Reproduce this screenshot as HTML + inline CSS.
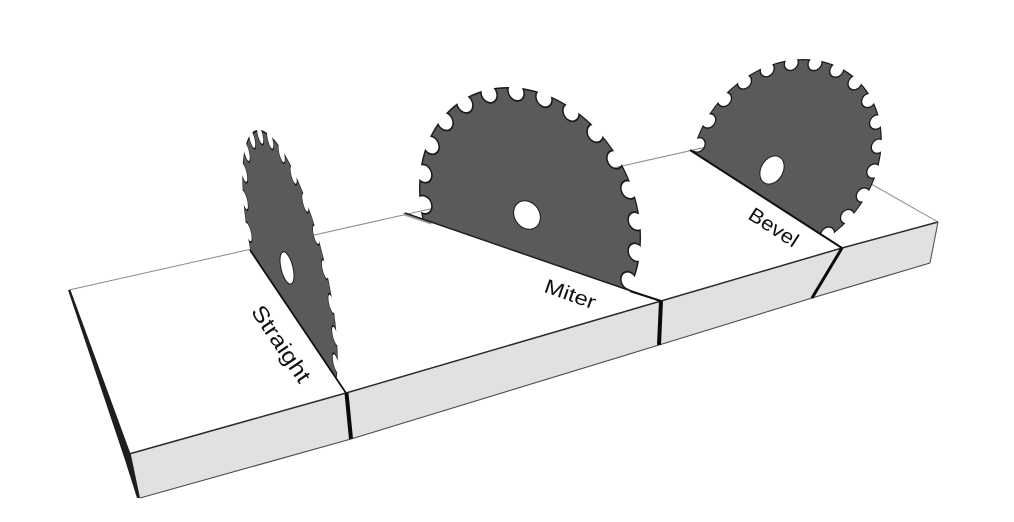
<!DOCTYPE html>
<html>
<head>
<meta charset="utf-8">
<style>
  html,body{margin:0;padding:0;background:#fff;}
  body{width:1014px;height:522px;overflow:hidden;}
  svg{display:block;}
  .lbl{font-family:"Liberation Sans","DejaVu Sans",sans-serif;fill:#111;}
</style>
</head>
<body>
<svg width="1014" height="522" viewBox="0 0 1014 522" xmlns="http://www.w3.org/2000/svg">
  <defs>
    <g id="n1">
      <circle cx="0" cy="-96.5" r="6.6" transform="rotate(0)"/>
      <circle cx="0" cy="-96.5" r="6.6" transform="rotate(15)"/>
      <circle cx="0" cy="-96.5" r="6.6" transform="rotate(30)"/>
      <circle cx="0" cy="-96.5" r="6.6" transform="rotate(45)"/>
      <circle cx="0" cy="-96.5" r="6.6" transform="rotate(60)"/>
      <circle cx="0" cy="-96.5" r="6.6" transform="rotate(75)"/>
      <circle cx="0" cy="-96.5" r="6.6" transform="rotate(90)"/>
      <circle cx="0" cy="-96.5" r="6.6" transform="rotate(105)"/>
      <circle cx="0" cy="-96.5" r="6.6" transform="rotate(120)"/>
      <circle cx="0" cy="-96.5" r="6.6" transform="rotate(135)"/>
      <circle cx="0" cy="-96.5" r="6.6" transform="rotate(150)"/>
      <circle cx="0" cy="-96.5" r="6.6" transform="rotate(165)"/>
      <circle cx="0" cy="-96.5" r="6.6" transform="rotate(180)"/>
      <circle cx="0" cy="-96.5" r="6.6" transform="rotate(195)"/>
      <circle cx="0" cy="-96.5" r="6.6" transform="rotate(210)"/>
      <circle cx="0" cy="-96.5" r="6.6" transform="rotate(225)"/>
      <circle cx="0" cy="-96.5" r="6.6" transform="rotate(240)"/>
      <circle cx="0" cy="-96.5" r="6.6" transform="rotate(255)"/>
      <circle cx="0" cy="-96.5" r="6.6" transform="rotate(270)"/>
      <circle cx="0" cy="-96.5" r="6.6" transform="rotate(285)"/>
      <circle cx="0" cy="-96.5" r="6.6" transform="rotate(300)"/>
      <circle cx="0" cy="-96.5" r="6.6" transform="rotate(315)"/>
      <circle cx="0" cy="-96.5" r="6.6" transform="rotate(330)"/>
      <circle cx="0" cy="-96.5" r="6.6" transform="rotate(345)"/>
    </g>
    <g id="n2">
      <circle cx="0" cy="-96.5" r="8" transform="rotate(0)"/>
      <circle cx="0" cy="-96.5" r="8" transform="rotate(15)"/>
      <circle cx="0" cy="-96.5" r="8" transform="rotate(30)"/>
      <circle cx="0" cy="-96.5" r="8" transform="rotate(45)"/>
      <circle cx="0" cy="-96.5" r="8" transform="rotate(60)"/>
      <circle cx="0" cy="-96.5" r="8" transform="rotate(75)"/>
      <circle cx="0" cy="-96.5" r="8" transform="rotate(90)"/>
      <circle cx="0" cy="-96.5" r="8" transform="rotate(105)"/>
      <circle cx="0" cy="-96.5" r="8" transform="rotate(120)"/>
      <circle cx="0" cy="-96.5" r="8" transform="rotate(135)"/>
      <circle cx="0" cy="-96.5" r="8" transform="rotate(150)"/>
      <circle cx="0" cy="-96.5" r="8" transform="rotate(165)"/>
      <circle cx="0" cy="-96.5" r="8" transform="rotate(180)"/>
      <circle cx="0" cy="-96.5" r="8" transform="rotate(195)"/>
      <circle cx="0" cy="-96.5" r="8" transform="rotate(210)"/>
      <circle cx="0" cy="-96.5" r="8" transform="rotate(225)"/>
      <circle cx="0" cy="-96.5" r="8" transform="rotate(240)"/>
      <circle cx="0" cy="-96.5" r="8" transform="rotate(255)"/>
      <circle cx="0" cy="-96.5" r="8" transform="rotate(270)"/>
      <circle cx="0" cy="-96.5" r="8" transform="rotate(285)"/>
      <circle cx="0" cy="-96.5" r="8" transform="rotate(300)"/>
      <circle cx="0" cy="-96.5" r="8" transform="rotate(315)"/>
      <circle cx="0" cy="-96.5" r="8" transform="rotate(330)"/>
      <circle cx="0" cy="-96.5" r="8" transform="rotate(345)"/>
    </g>
    <mask id="m1" maskUnits="userSpaceOnUse" maskContentUnits="userSpaceOnUse" x="-130" y="-130" width="260" height="260">
      <rect x="-130" y="-130" width="260" height="260" fill="#fff"/>
      <use href="#n1" fill="#000"/>
    </mask>
    <mask id="m2" maskUnits="userSpaceOnUse" maskContentUnits="userSpaceOnUse" x="-130" y="-130" width="260" height="260">
      <rect x="-130" y="-130" width="260" height="260" fill="#fff"/>
      <use href="#n2" fill="#000"/>
    </mask>
    <clipPath id="cs" clipPathUnits="userSpaceOnUse"><polygon points="-38,-179 442,536 1014,536 1014,-179"/></clipPath>
    <clipPath id="cm" clipPathUnits="userSpaceOnUse"><polygon points="-105,37 915,389 1014,389 1014,-100 -105,-100"/></clipPath>
    <clipPath id="cb" clipPathUnits="userSpaceOnUse"><polygon points="386,-46 994,346 1014,346 1014,-100 386,-100"/></clipPath>
  </defs>

  <rect x="0" y="0" width="1014" height="522" fill="#fff"/>

  <!-- board top face -->
  <polygon points="69,290 778,131 938,222 842,248 661,301 346,393 129,454" fill="#fff"/>
  <polyline points="69,290 778,131 938,222" fill="none" stroke="#8a8a8a" stroke-width="1"/>

  <!-- front face -->
  <polygon points="129,454 346,393 661,301 842,248 938,222 930,263 812,298 659,345 351,439 140,498" fill="#e1e1e1"/>
  <polyline points="129,454 346,393 661,301 842,248 938,222" fill="none" stroke="#2a2a2a" stroke-width="1.5"/>
  <polyline points="140,498 351,439 659,345 812,298 930,263" fill="none" stroke="#4a4a4a" stroke-width="1.1"/>
  <line x1="938" y1="222" x2="930" y2="263" stroke="#555" stroke-width="1.1"/>

  <!-- left end dark wedge -->
  <polygon points="68,290 70.5,290 131,455 140,498 137,498 125,460" fill="#1e1e1e"/>

  <!-- miter kerf sliver -->
  <polygon points="403,212.5 432,221.5 431,224.5 404,215.5" fill="#9a9a9a"/>

  <!-- STRAIGHT blade -->
  <g clip-path="url(#cs)">
    <g transform="matrix(0.340,-0.082,0.334,1.380,290,268)">
      <g transform="rotate(4)">
        <circle cx="0" cy="0" r="100" fill="#1a1a1a" mask="url(#m1)"/>
        <circle cx="0" cy="0" r="98.6" fill="#5a5a5a" mask="url(#m2)"/>
      </g>
    </g>
    <ellipse cx="287" cy="268" rx="6" ry="16.5" transform="rotate(-13.6 287 268)" fill="#fff" stroke="#1a1a1a" stroke-width="1"/>
  </g>

  <!-- MITER blade -->
  <g clip-path="url(#cm)">
    <g transform="matrix(1.11,0.25,0,1.235,530,213)">
      <g transform="rotate(7.5)">
        <circle cx="0" cy="0" r="100" fill="#1a1a1a" mask="url(#m1)"/>
        <circle cx="0" cy="0" r="98.8" fill="#5a5a5a" mask="url(#m2)"/>
      </g>
    </g>
    <ellipse cx="527" cy="215" rx="12.5" ry="15" transform="rotate(-35 527 215)" fill="#fff" stroke="#1a1a1a" stroke-width="1"/>
  </g>

  <!-- BEVEL blade -->
  <g clip-path="url(#cb)">
    <g transform="matrix(0.681,-0.812,0.674,0.566,786,158)">
      <g transform="rotate(3)">
        <circle cx="0" cy="0" r="100" fill="#1a1a1a" mask="url(#m1)"/>
        <circle cx="0" cy="0" r="98.8" fill="#5a5a5a" mask="url(#m2)"/>
      </g>
    </g>
    <ellipse cx="772" cy="170" rx="11" ry="15" transform="rotate(30 772 170)" fill="#fff" stroke="#1a1a1a" stroke-width="1"/>
  </g>

  <!-- cut lines: top face -->
  <line x1="250" y1="250" x2="346" y2="393" stroke="#111" stroke-width="1.8"/>
  <line x1="405" y1="213" x2="660" y2="301" stroke="#1e1e1e" stroke-width="1.5"/>
  <line x1="630" y1="291" x2="661" y2="301" stroke="#111" stroke-width="2.2"/>
  <line x1="690" y1="150" x2="842" y2="248" stroke="#111" stroke-width="2"/>

  <!-- cut lines: front face -->
  <line x1="346.5" y1="393" x2="351" y2="439" stroke="#0a0a0a" stroke-width="4"/>
  <line x1="661" y1="301" x2="659" y2="345" stroke="#0a0a0a" stroke-width="4"/>
  <line x1="842" y1="248" x2="812" y2="298" stroke="#0a0a0a" stroke-width="3"/>

  <!-- labels -->
  <text class="lbl" x="0" y="0" font-size="22" text-anchor="middle" textLength="88" lengthAdjust="spacingAndGlyphs" transform="translate(275,348) rotate(56)">Straight</text>
  <text class="lbl" x="0" y="0" font-size="20" text-anchor="middle" textLength="53" lengthAdjust="spacingAndGlyphs" transform="translate(568,300.5) rotate(19.5)">Miter</text>
  <text class="lbl" x="0" y="0" font-size="20" text-anchor="middle" textLength="55" lengthAdjust="spacingAndGlyphs" transform="translate(770,233) rotate(33)">Bevel</text>
</svg>
</body>
</html>
